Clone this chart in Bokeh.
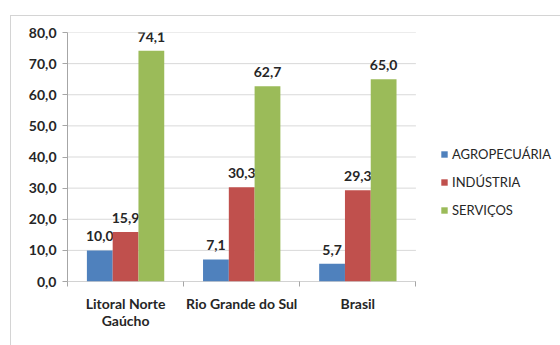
from bokeh.plotting import figure
from bokeh.models import ColumnDataSource, FixedTicker, Legend, LegendItem
from bokeh.core.properties import value
from bokeh.embed import file_html
from bokeh.resources import INLINE

categories = ["Litoral Norte\nGaúcho", "Rio Grande do Sul", "Brasil"]
series_names = ["AGROPECUÁRIA", "INDÚSTRIA", "SERVIÇOS"]
agropecuaria = [10.0, 7.1, 5.7]
industria = [15.9, 30.3, 29.3]
servicos = [74.1, 62.7, 65.0]
colors = ["#4F81BD", "#C0504D", "#9BBB59"]
y_ticks = [0, 10, 20, 30, 40, 50, 60, 70, 80]

FONT = "Lato"
TXT = "#262626"
AX = "#a6a6a6"

W, H = 552, 332
BL, BR, BT, BB = 56, 5, 16, 67
frame_w = (W - 2) - BL - BR
plot_px = 347  # width of the plotted category area
n = len(categories)
x_end = n * frame_w / plot_px

p = figure(width=W, height=H, x_range=(0, x_end), y_range=(0, 80),
           output_backend="svg", toolbar_location=None,
           min_border_left=BL, min_border_right=BR, min_border_top=BT,
           min_border_bottom=BB)
p.margin = (15, 0, 0, 10)
p.styles = {"border": "1px solid #d4d4d4", "box-sizing": "border-box"}
p.outline_line_color = None
p.background_fill_color = "white"
p.border_fill_color = "white"

# gridlines limited to the category area
p.xgrid.grid_line_color = None
p.ygrid.grid_line_color = None
p.segment(x0=[0] * len(y_ticks[1:]), x1=[n] * len(y_ticks[1:]), y0=y_ticks[1:], y1=y_ticks[1:],
          line_color="#d9d9d9", line_width=1)
# x axis line limited to the category area
p.segment(x0=[0], x1=[n], y0=[0], y1=[0], line_color=AX, line_width=1)

bar_w = 0.222
offsets = [-bar_w, 0.0, bar_w]
renderers = []
for name, vals, col, off in zip(series_names, [agropecuaria, industria, servicos], colors, offsets):
    xs = [i + 0.5 + off for i in range(n)]
    src = ColumnDataSource(dict(x=xs, top=vals,
                                lab=[f"{v:.1f}".replace(".", ",") for v in vals]))
    r = p.vbar(x="x", top="top", width=bar_w, source=src, fill_color=col, line_color=None)
    renderers.append((name, r))
    p.text(x="x", y="top", text="lab", source=src, text_align="center",
           text_baseline="bottom", y_offset=-9, text_font=value(FONT),
           text_font_style="bold", text_font_size="14px", text_color=TXT)

# y axis
p.yaxis.ticker = FixedTicker(ticks=y_ticks)
p.yaxis.major_label_overrides = {t: f"{t:.1f}".replace(".", ",") for t in y_ticks}
p.yaxis.major_label_text_font = FONT
p.yaxis.major_label_text_font_style = "bold"
p.yaxis.major_label_text_font_size = "14px"
p.yaxis.major_label_text_color = TXT
p.yaxis.axis_line_color = AX
p.yaxis.major_tick_line_color = AX
p.yaxis.major_tick_out = 5
p.yaxis.major_tick_in = 0
p.yaxis.minor_tick_line_color = None
p.yaxis.major_label_standoff = 6

# x axis
centers = [i + 0.5 for i in range(n)]
p.xaxis.ticker = FixedTicker(ticks=centers, minor_ticks=list(range(n + 1)))
p.xaxis.major_label_overrides = {c: lab for c, lab in zip(centers, categories)}
p.xaxis.major_label_text_font = FONT
p.xaxis.major_label_text_font_style = "bold"
p.xaxis.major_label_text_font_size = "14px"
p.xaxis.major_label_text_line_height = 1.0
p.xaxis.major_label_text_color = TXT
p.xaxis.axis_line_color = None
p.xaxis.major_tick_line_color = None
p.xaxis.minor_tick_line_color = AX
p.xaxis.minor_tick_out = 5
p.xaxis.minor_tick_in = 0
p.xaxis.major_label_standoff = 7

legend = Legend(items=[LegendItem(label=nm, renderers=[r]) for nm, r in renderers],
                location=(373, 61), glyph_width=8, glyph_height=8,
                label_height=20, spacing=8, padding=0, margin=0,
                label_text_font=FONT, label_text_font_size="13px",
                label_text_color=TXT, label_standoff=4,
                border_line_color=None, background_fill_alpha=0)
p.add_layout(legend, "center")

open("out.html", "w").write(file_html(p, INLINE))
